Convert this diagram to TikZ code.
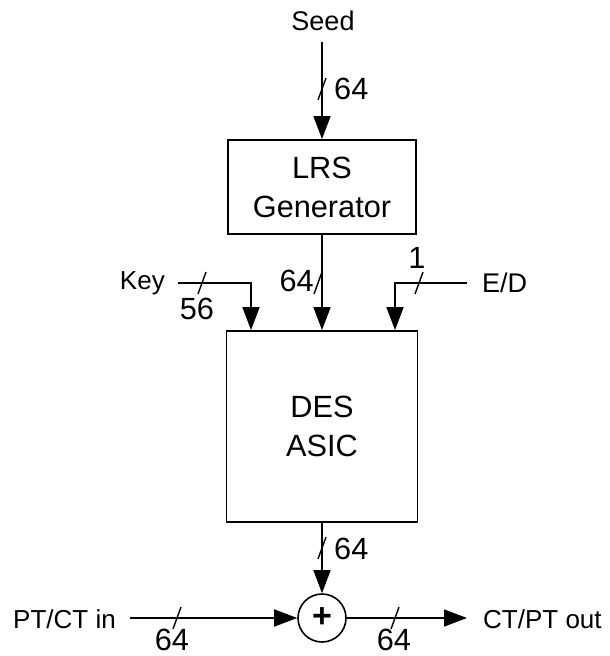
\documentclass[tikz,border=0pt]{standalone}
\usepackage{fontspec}
\setmainfont{Liberation Sans}
\usetikzlibrary{arrows.meta}
\begin{document}
\begin{tikzpicture}[x=1pt,y=-1pt,
  wire/.style={line width=1.6pt},
  arr/.style={wire,-{Triangle[length=23pt,width=17pt]}},
  box/.style={draw,line width=1.8pt,align=center,font=\fontsize{30.7}{39}\selectfont,inner sep=0pt},
  lbl/.style={font=\fontsize{26}{30}\selectfont,inner sep=0pt},
  num/.style={font=\fontsize{30.7}{34}\selectfont,inner sep=0pt},
  slashst/.style={line width=1.4pt},
  xorst/.style={draw,circle,line width=1.6pt,minimum size=48pt,inner sep=0pt,font=\fontsize{34}{36}\selectfont\bfseries}]
\useasboundingbox (0,0) rectangle (610,656);

% nodes
\node[lbl,font=\fontsize{27}{30}\selectfont] (seed) at (323,21) {Seed};
\node[box,minimum width=188pt,minimum height=94pt] (lrs) at (322,187) {LRS\\Generator};
\node[box,minimum width=191pt,minimum height=191pt] (des) at (322,426.5) {DES\\ASIC};
\node[xorst] (xor) at (322,618) {+};
\node[lbl,anchor=east] (key) at (165,283) {Key};
\node[lbl,anchor=west,font=\fontsize{27}{30}\selectfont] (ed) at (482,283) {E/D};
\node[lbl,anchor=west] (ptin) at (13,619) {PT/CT in};
\node[lbl,anchor=west] (ctout) at (483,619) {CT/PT out};

% width labels
\node[num,anchor=west] (n1) at (334,89) {64};
\node[num,anchor=east] (n2) at (314,281) {64};
\node[num] (n3) at (197,309) {56};
\node[num] (n4) at (417,258) {1};
\node[num,anchor=west] (n5) at (334,549) {64};
\node[num] (n6) at (172,640) {64};
\node[num] (n7) at (394,640) {64};

% connector end points
\coordinate (seedout) at (322,42);
\coordinate (keyin) at (178,283);
\coordinate (keyturn) at (251,283);
\coordinate (edin) at (467,283);
\coordinate (edturn) at (395,283);
\coordinate (ptstart) at (130,618);
\coordinate (outend) at (467,618);

% connectors
\draw[arr] (seedout) -- (lrs.north);
\draw[arr] (lrs.south) -- (des.north);
\draw[arr] (keyin) -- (keyturn) -- (keyturn |- des.north);
\draw[arr] (edin) -- (edturn) -- (edturn |- des.north);
\draw[arr] (des.south) -- (xor.north);
\draw[arr] (ptstart) -- (xor.west);
\draw[arr] (xor.east) -- (outend);

% bus slashes
\foreach \sx/\sy in {322/89, 318/283, 202/283, 419/283, 322/548, 177/618, 395/618}
  \draw[slashst] (\sx-4,\sy+11) -- (\sx+4,\sy-11);
\end{tikzpicture}
\end{document}
